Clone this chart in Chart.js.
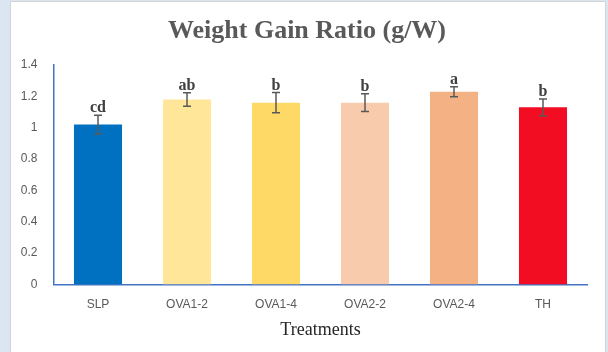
<!DOCTYPE html>
<html>
<head>
<meta charset="utf-8">
<script src="https://cdn.jsdelivr.net/npm/chart.js@4"></script>
<style>
  html, body { margin: 0; padding: 0; background: #dce6f2; }
  #wrap { width: 608px; height: 352px; position: relative; }
</style>
</head>
<body>
<div id="wrap"><canvas id="chart" width="608" height="352"></canvas></div>
<script>
// data
const treatments = ['SLP', 'OVA1-2', 'OVA1-4', 'OVA2-2', 'OVA2-4', 'TH'];
const gainRatio = [1.02, 1.18, 1.16, 1.16, 1.23, 1.13];
const errors = [0.06, 0.043, 0.064, 0.056, 0.032, 0.053];
const letters = ['cd', 'ab', 'b', 'b', 'a', 'b'];
const barColors = ['#0070c0', '#ffe699', '#ffd966', '#f8cbad', '#f4b183', '#f20d22'];
const yTicks = [0, 0.2, 0.4, 0.6, 0.8, 1, 1.2, 1.4];

// panel background, title, error bars and letters
const extras = {
    id: 'extras',
    beforeDraw(chart) {
        const c = chart.ctx;
        c.save();
        c.fillStyle = '#dce6f2';
        c.fillRect(0, 0, chart.width, chart.height);
        c.fillStyle = '#ffffff';
        c.fillRect(11, 2, 594, 352);
        c.strokeStyle = '#d4d4d4';
        c.lineWidth = 1;
        c.strokeRect(10.5, 1.5, 595, 352);
        c.restore();
    },
    afterDatasetsDraw(chart) {
        const c = chart.ctx;
        const y = chart.scales.y;
        const meta = chart.getDatasetMeta(0);
        c.save();
        c.strokeStyle = '#595959';
        c.lineWidth = 1.5;
        meta.data.forEach((bar, i) => {
            const top = y.getPixelForValue(gainRatio[i] + errors[i]);
            const bot = y.getPixelForValue(gainRatio[i] - errors[i]);
            c.beginPath();
            c.moveTo(bar.x, top); c.lineTo(bar.x, bot);
            c.moveTo(bar.x - 4, top); c.lineTo(bar.x + 4, top);
            c.moveTo(bar.x - 4, bot); c.lineTo(bar.x + 4, bot);
            c.stroke();
            c.fillStyle = '#404040';
            c.font = 'bold 16px "Liberation Serif"';
            c.textAlign = 'center';
            c.textBaseline = 'alphabetic';
            c.fillText(letters[i], bar.x, top - 3);
        });
        // chart title
        c.fillStyle = '#595959';
        c.font = 'bold 26px "Liberation Serif"';
        c.textAlign = 'center';
        c.fillText('Weight Gain Ratio (g/W)', 307, 38);
        // axis title
        const ca = chart.chartArea;
        c.fillStyle = '#262626';
        c.font = '18px "Liberation Serif"';
        c.fillText('Treatments', (ca.left + ca.right) / 2, 335);
        c.restore();
    }
};

const ctx = document.getElementById('chart').getContext('2d');
const myChart = new Chart(ctx, {
    type: 'bar',
    data: {
        labels: treatments,
        datasets: [{
            label: 'Weight Gain Ratio',
            data: gainRatio,
            backgroundColor: barColors,
            borderWidth: 0,
            categoryPercentage: 1,
            barPercentage: 0.54
        }]
    },
    options: {
        responsive: false,
        animation: false,
        layout: { padding: { top: 65, right: 20.5, left: 0, bottom: 0 } },
        plugins: {
            legend: { display: false },
            tooltip: { enabled: false }
        },
        scales: {
            x: {
                grid: { display: false, drawTicks: false },
                border: { color: '#4472c4', width: 1.5 },
                ticks: { color: '#595959', font: { family: 'Liberation Sans', size: 12 }, padding: 13 },
                afterFit(scale) { scale.height = 67.5; }
            },
            y: {
                min: 0,
                max: 1.4,
                grid: { display: false, drawTicks: false },
                border: { color: '#4472c4', width: 1.5 },
                afterBuildTicks(scale) { scale.ticks = yTicks.map(v => ({ value: v })); },
                ticks: {
                    color: '#595959',
                    font: { family: 'Liberation Sans', size: 12 },
                    padding: 16,
                    callback: v => String(v)
                },
                afterFit(scale) { scale.width = 53.5; }
            }
        }
    },
    plugins: [extras]
});
</script>
</body>
</html>
